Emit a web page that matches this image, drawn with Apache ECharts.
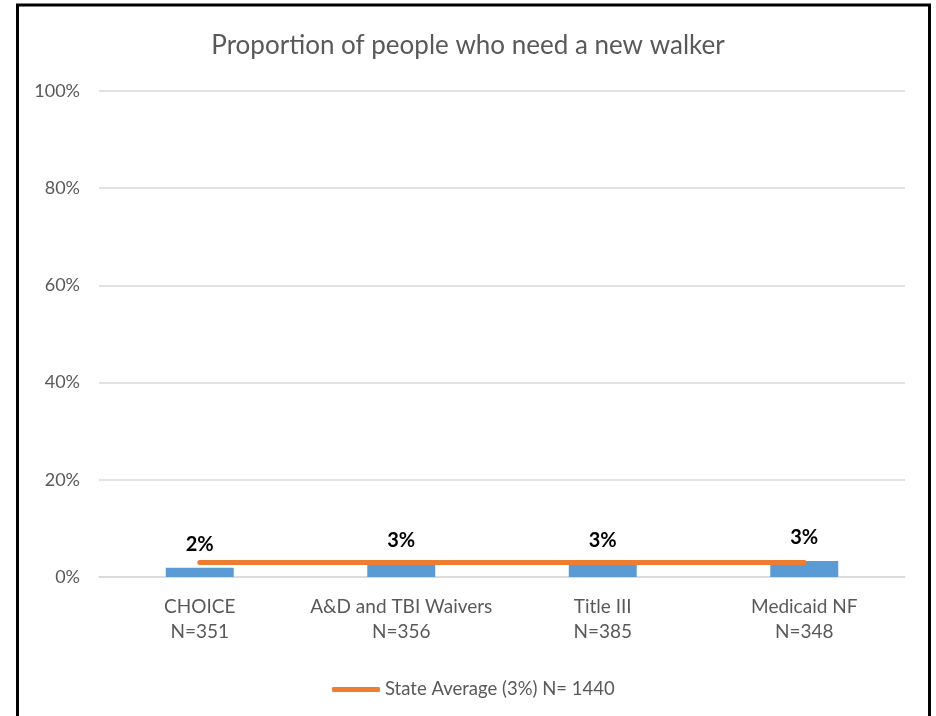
<!DOCTYPE html>
<html><head><meta charset="utf-8">
<script src="https://cdn.jsdelivr.net/npm/echarts@6/dist/echarts.min.js"></script>
<style>html,body{margin:0;padding:0;background:#fff}#c{width:936px;height:716px}</style>
</head><body><div id="c"></div>
<script>
const categories = ["CHOICE\nN=351", "A&D and TBI Waivers\nN=356", "Title III\nN=385", "Medicaid NF\nN=348"];
const barValues = [1.9, 2.8, 2.8, 3.3];
const barLabels = ["2%", "3%", "3%", "3%"];
const stateAverage = [3, 3, 3, 3];
const yTicks = [0, 20, 40, 60, 80, 100];
const font = "Lato, 'Open Sans', sans-serif";

const chart = echarts.init(document.getElementById('c'));
chart.setOption({
  animation: false,
  graphic: [{type:'rect', shape:{x:17.5, y:5, width:912, height:730}, style:{fill:'none', stroke:'#000', lineWidth:3}, z:100}],
  title: {text: 'Proportion of people who need a new walker', left: 'center', top: 28,
    textStyle: {fontFamily: font, fontSize: 26, fontWeight: 'normal', color: '#595959'}},
  grid: {left: 99, right: 31, top: 91, bottom: 139},
  legend: {data: ['State Average (3%) N= 1440'], left: 327, top: 675, icon: 'roundRect', itemWidth: 48, itemHeight: 5, itemGap: 2,
    textStyle: {fontFamily: font, fontSize: 18.5, color: '#595959'}},
  xAxis: {type: 'category', data: categories,
    axisLine: {lineStyle: {color: '#d9d9d9', width: 1.5}}, axisTick: {show: false},
    axisLabel: {interval: 0, fontFamily: font, fontSize: 19, color: '#595959', lineHeight: 25, margin: 17}},
  yAxis: {type: 'value', min: 0, max: 100, interval: 20,
    axisLabel: {fontFamily: font, fontSize: 18, color: '#595959', margin: 19,
      formatter: v => yTicks.includes(v) ? v + '%' : ''},
    splitLine: {lineStyle: {color: '#d9d9d9', width: 1.5}}, axisLine: {show: false}, axisTick: {show: false}},
  series: [
    {name: 'Bars', type: 'bar', data: barValues, barWidth: 68, itemStyle: {color: '#5B9BD5'},
      label: {show: true, position: 'top', distance: 13, formatter: p => barLabels[p.dataIndex],
        fontFamily: font, fontSize: 20, fontWeight: 'bold', color: '#000'}},
    {name: 'State Average (3%) N= 1440', type: 'line', data: stateAverage, symbol: 'none',
      lineStyle: {color: '#ED7D31', width: 5, cap: 'round'}, itemStyle: {color: '#ED7D31'}, z: 3}
  ]
});
</script></body></html>
